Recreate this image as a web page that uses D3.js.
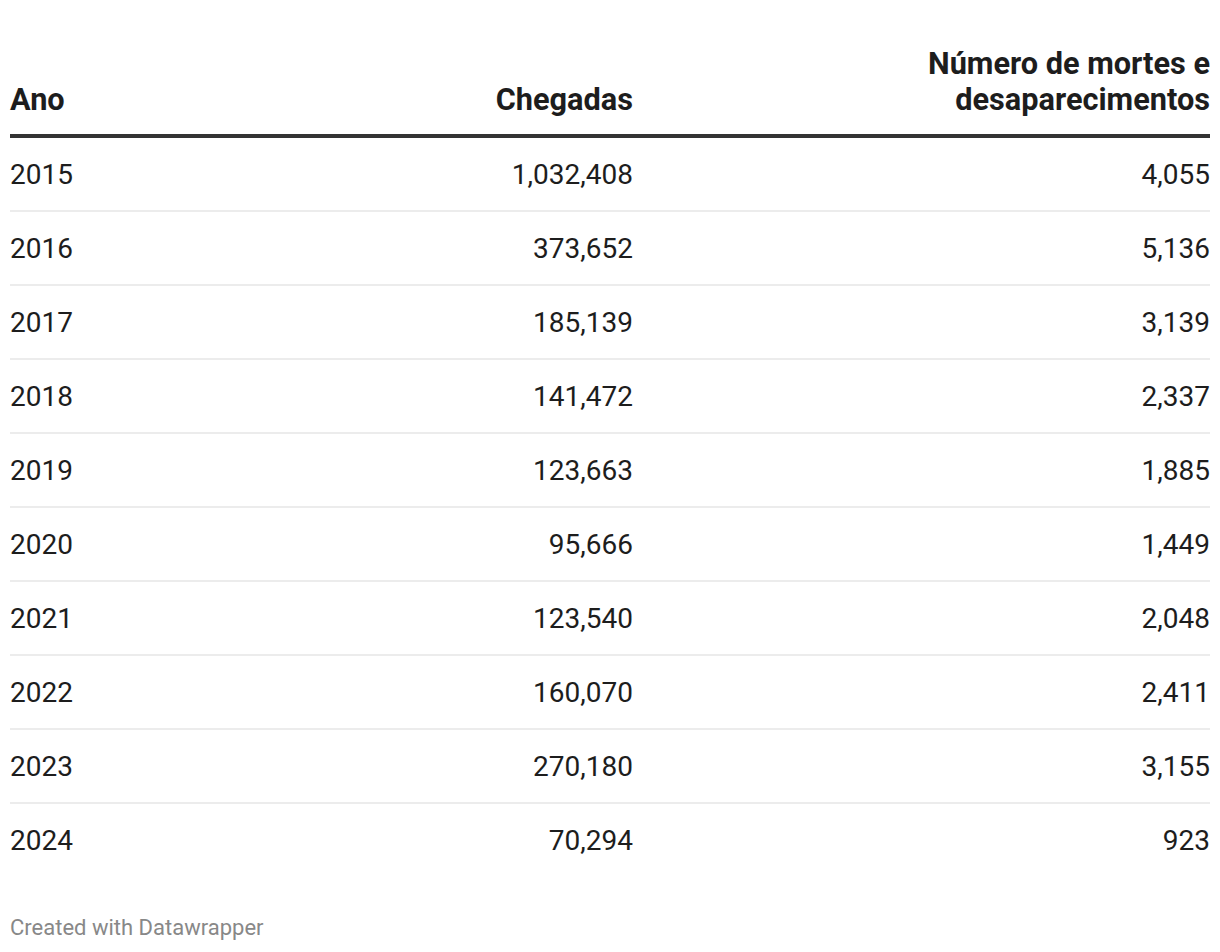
<!DOCTYPE html>
<html>
<head>
<meta charset="utf-8">
<script src="https://cdn.jsdelivr.net/npm/d3@7"></script>
<style>
  html, body { margin: 0; padding: 0; background: #fff; }
  svg { display: block; font-family: Roboto, "Noto Sans", sans-serif; }
</style>
</head>
<body>
<div id="chart"></div>
<script>
// table data
const years = ["2015", "2016", "2017", "2018", "2019", "2020", "2021", "2022", "2023", "2024"];
const arrivals = [1032408, 373652, 185139, 141472, 123663, 95666, 123540, 160070, 270180, 70294];
const deaths = [4055, 5136, 3139, 2337, 1885, 1449, 2048, 2411, 3155, 923];
const headers = [["Ano"], ["Chegadas"], ["Número de mortes e", "desaparecimentos"]];
const footer = "Created with Datawrapper";

const width = 1220, height = 952;
const left = 10, right = 1210;
const textColor = "#1d1d1d";

const svg = d3.select("#chart").append("svg")
    .attr("width", width)
    .attr("height", height);

// rows
const y = d3.scaleBand()
    .domain(years)
    .range([137, 137 + 74 * years.length]);

// column anchors: first left, others right aligned
const cols = [
    { x: left, anchor: "start" },
    { x: 633, anchor: "end" },
    { x: right, anchor: "end" }
];

// header
const head = svg.append("g").attr("class", "header");
headers.forEach((lines, c) => {
    const t = head.append("text")
        .attr("x", cols[c].x)
        .attr("text-anchor", cols[c].anchor)
        .attr("font-size", 30.7)
        .attr("font-weight", 700)
        .attr("fill", textColor);
    lines.forEach((line, i) => {
        t.append("tspan")
            .attr("x", cols[c].x)
            .attr("y", 110 - (lines.length - 1 - i) * 36)
            .text(line);
    });
});

svg.append("rect")
    .attr("x", left).attr("width", right - left)
    .attr("y", 134).attr("height", 4)
    .attr("fill", "#333");

// row separators (not after last row)
svg.selectAll(".sep")
    .data(years.slice(0, -1))
    .join("rect")
    .attr("class", "sep")
    .attr("x", left).attr("width", right - left)
    .attr("y", d => y(d) + y.bandwidth() - 1)
    .attr("height", 2)
    .attr("fill", "#ececec");

const fmt = d3.format(",");
const rows = svg.selectAll(".row")
    .data(years.map((yr, i) => [yr, fmt(arrivals[i]), fmt(deaths[i])]))
    .join("g")
    .attr("class", "row")
    .attr("transform", d => `translate(0,${y(d[0]) + y.bandwidth() / 2 + 10})`);

rows.selectAll("text")
    .data(d => d)
    .join("text")
    .attr("x", (d, i) => cols[i].x)
    .attr("text-anchor", (d, i) => cols[i].anchor)
    .attr("font-size", 28)
    .attr("fill", textColor)
    .text(d => d);

svg.append("text")
    .attr("x", left)
    .attr("y", 935)
    .attr("font-size", 22)
    .attr("fill", "#888")
    .text(footer);
</script>
</body>
</html>
